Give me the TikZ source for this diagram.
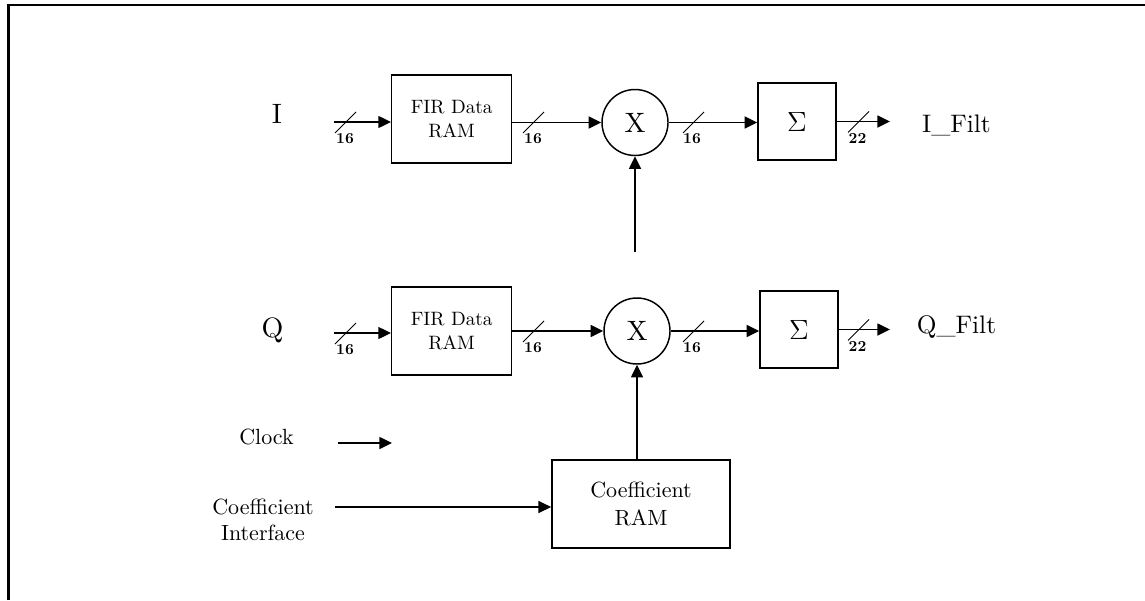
\documentclass[tikz,border=0pt]{standalone}
\usepackage{fontspec}
\setmainfont{lmroman10-regular.otf}[BoldFont=lmroman10-bold.otf]
\usetikzlibrary{arrows.meta,calc}
\tikzset{
  blk/.style={draw, line width=1.1pt, inner sep=0pt, align=center},
  firbox/.style={blk, minimum width=90pt, minimum height=66pt, font=\fontsize{14.5}{17.5}\selectfont},
  sigbox/.style={blk, minimum width=58.5pt, minimum height=57.75pt, font=\fontsize{15}{18}\selectfont},
  coefbox/.style={blk, minimum width=133.7pt, minimum height=66pt, font=\fontsize{16.5}{21}\selectfont},
  mult/.style={draw, circle, line width=1.1pt, minimum size=49.5pt, inner sep=0pt, font=\fontsize{21}{26}\selectfont},
  conn/.style={line width=1.1pt, -{Triangle[length=9.5pt,width=9pt]}},
  busslash/.style={line width=0.6pt},
  buslbl/.style={font=\bfseries\fontsize{11.5}{14}\selectfont, inner sep=0pt},
  biglbl/.style={font=\fontsize{21}{24}\selectfont, inner sep=0pt, anchor=base},
  filtlbl/.style={font=\fontsize{19}{22}\selectfont, inner sep=0pt, anchor=base},
  midlbl/.style={font=\fontsize{16.5}{19.5}\selectfont, inner sep=0pt, align=center},
  frame/.style={line width=1.6pt}
}
\newcommand\busmark[4]{% x of slash, y of arrow, x of label centre, label
  \draw[busslash] (#1,#2+11) -- (#1+21,#2-10);
  \node[buslbl] at (#3,#2+16.5) {#4};}
\newcommand\bigsigma{\scalebox{1.45}{$\Sigma$}}
\begin{document}
\begin{tikzpicture}[x=0.75pt,y=-0.75pt]
\useasboundingbox (0,0) rectangle (1145,600);
% frame
\draw[frame] (8.5,600) -- (8.5,5) -- (1145,5);

% top row
\node[biglbl] (lblI) at (277,123) {I};
\coordinate (inI) at (334,122);
\node[firbox] (fir1) at (451.7,119) {FIR Data\\RAM};
\node[mult] (c1) at (635,122.5) {X};
\node[sigbox] (sig1) at (797,121.5) {\bigsigma};
\coordinate (outI) at (890,121.5);
\node[filtlbl] (lblIF) at (956.5,132) {I\_Filt};
\coordinate (vt) at (635,252);

\draw[conn] (inI) -- (inI -| fir1.west);
\draw[conn] (c1.west -| fir1.east) -- (c1.west);
\draw[conn] (c1.east) -- (c1.east -| sig1.west);
\draw[conn] (sig1.east) -- (outI);
\draw[conn] (vt) -- (c1.south);

\busmark{335}{122}{345}{16}
\busmark{523}{122}{533}{16}
\busmark{683}{122}{692}{16}
\busmark{848}{121.5}{857.5}{22}

% bottom row
\node[biglbl] (lblQ) at (272.5,337) {Q};
\coordinate (inQ) at (334,333);
\node[firbox] (fir2) at (451.7,331) {FIR Data\\RAM};
\node[mult] (c2) at (637,331) {X};
\node[sigbox] (sig2) at (799,329.5) {\bigsigma};
\coordinate (outQ) at (890,329.5);
\node[filtlbl] (lblQF) at (956.5,333) {Q\_Filt};

\draw[conn] (inQ) -- (inQ -| fir2.west);
\draw[conn] (c2.west -| fir2.east) -- (c2.west);
\draw[conn] (c2.east) -- (c2.east -| sig2.west);
\draw[conn] (sig2.east) -- (outQ);

\busmark{335}{333}{345}{16}
\busmark{523}{331}{533}{16}
\busmark{683}{331}{692}{16}
\busmark{848}{329.5}{857.5}{22}

% clock and coefficients
\node[midlbl, anchor=base] (clk) at (266.5,444) {Clock};
\coordinate (ck1) at (338,443);
\coordinate (ck2) at (392,443);
\draw[conn] (ck1) -- (ck2);

\node[coefbox] (cram) at (641,504) {Coefficient\\RAM};
\node[midlbl] (ci) at (263,520) {Coefficient\\Interface};
\coordinate (ciA) at (335,507);
\draw[conn] (ciA) -- (ciA -| cram.west);
\draw[conn] (cram.north -| c2.south) -- (c2.south);
\end{tikzpicture}
\end{document}
